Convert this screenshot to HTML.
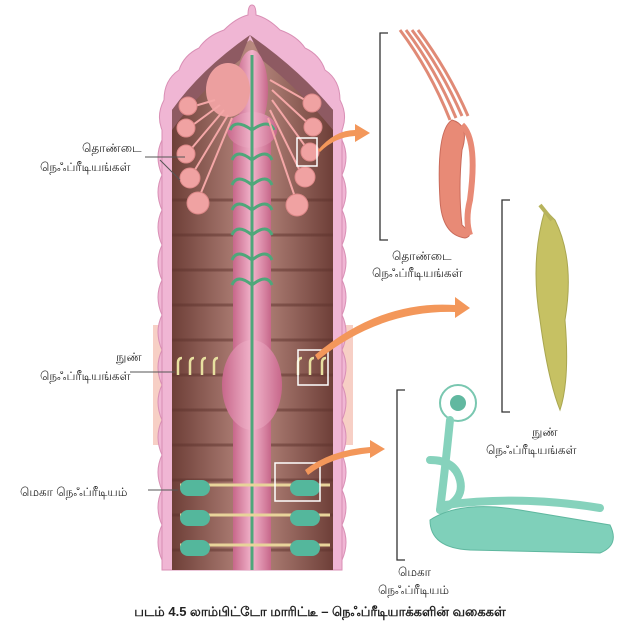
<!DOCTYPE html>
<html><head><meta charset="utf-8"><style>
body{margin:0;background:#fff;width:640px;height:642px;overflow:hidden;font-family:"Liberation Sans","Noto Sans CJK SC",sans-serif}
svg{position:absolute;left:0;top:0}
text{font-family:"Liberation Sans","Noto Sans CJK SC",sans-serif;font-size:12px;fill:#222}
</style></head><body>
<svg width="640" height="642" viewBox="0 0 640 642">
<defs>
<linearGradient id="br" x1="0" x2="1"><stop offset="0" stop-color="#6e3f38"/><stop offset=".5" stop-color="#b98a80"/><stop offset="1" stop-color="#6e3f38"/></linearGradient>
<linearGradient id="gut" x1="0" x2="1"><stop offset="0" stop-color="#c7678a"/><stop offset=".5" stop-color="#f2b5cc"/><stop offset="1" stop-color="#c7678a"/></linearGradient>
</defs>
<rect x="153" y="325" width="200" height="120" fill="#f7cfc5"/>
<!-- outer body scalloped -->
<path d="M162,570 L162,130 q-6,-15 2,-30 q0,-20 15,-30 q5,-15 20,-22 q8,-12 25,-18 q12,-12 24,-15 q0,-10 4,-10 q4,0 4,10 q12,3 24,15 q17,6 25,18 q15,7 20,22 q15,10 15,30 q8,15 2,30 L342,570 Z" fill="#f0b6d4" stroke="#d98fb5"/>
<g fill="#f0b6d4" stroke="#d98fb5">
<path d="M162,140 q-8,17 0,35 q-8,17 0,35 q-8,17 0,35 q-8,17 0,35 q-8,17 0,35 q-8,17 0,35 q-8,17 0,35 q-8,17 0,35 q-8,17 0,35 q-8,17 0,35 q-8,17 0,35 q-8,17 0,35Z"/>
<path d="M342,140 q8,17 0,35 q8,17 0,35 q8,17 0,35 q8,17 0,35 q8,17 0,35 q8,17 0,35 q8,17 0,35 q8,17 0,35 q8,17 0,35 q8,17 0,35 q8,17 0,35 q8,17 0,35Z"/>
</g>
<!-- inner -->
<path d="M172,570 L172,110 Q200,75 250,40 Q300,75 333,110 L333,570 Z" fill="url(#br)"/>
<g stroke="#5e332d" stroke-width="3" opacity=".5">
<path d="M172,200h161M172,235h161M172,270h161M172,305h161M172,340h161M172,375h161M172,410h161M172,445h161M172,480h161M172,515h161M172,550h161"/>
</g>
<!-- flaps -->
<path d="M172,110 Q200,70 250,35 L240,60 Q200,90 172,130Z" fill="#8e5a62"/>
<path d="M333,110 Q300,70 250,35 L262,60 Q300,90 333,130Z" fill="#8e5a62"/>
<!-- gut -->
<rect x="233" y="120" width="38" height="450" fill="url(#gut)"/>
<ellipse cx="252" cy="90" rx="16" ry="40" fill="url(#gut)"/>
<ellipse cx="252" cy="130" rx="25" ry="18" fill="url(#gut)"/>
<ellipse cx="252" cy="385" rx="30" ry="45" fill="url(#gut)"/>
<ellipse cx="228" cy="90" rx="22" ry="27" fill="#ec9f9f"/>
<!-- nerve -->
<line x1="252" y1="55" x2="252" y2="570" stroke="#4ea77a" stroke-width="3"/>
<g fill="none" stroke="#4ea77a" stroke-width="3">
<path d="M230,130q5,-12 22,0q17,-12 22,0"/><path d="M232,160q5,-12 20,0q15,-12 20,0"/>
<path d="M232,185q5,-12 20,0q15,-12 20,0"/><path d="M232,210q5,-12 20,0q15,-12 20,0"/>
<path d="M232,235q5,-12 20,0q15,-12 20,0"/><path d="M232,260q5,-12 20,0q15,-12 20,0"/>
<path d="M232,285q5,-12 20,0q15,-12 20,0"/>
</g>
<!-- pharyngeal nephridia -->
<g stroke="#f4a7a7" stroke-width="2"><path d="M215,100L188,108M220,105L186,130M224,110L186,155M228,115L190,178M232,118L198,200M270,80L305,100M272,90L310,125M272,100L308,150M270,110L302,175M268,118L296,200"/></g>
<g fill="#f0a2a2" stroke="#d88"><circle cx="188" cy="106" r="9"/><circle cx="186" cy="128" r="9"/><circle cx="186" cy="154" r="9"/><circle cx="190" cy="178" r="10"/><circle cx="198" cy="203" r="11"/><circle cx="312" cy="103" r="9"/><circle cx="313" cy="127" r="9"/><circle cx="310" cy="152" r="9"/><circle cx="305" cy="177" r="10"/><circle cx="297" cy="205" r="11"/></g>
<rect x="297" y="138" width="20" height="28" fill="none" stroke="#fff" stroke-width="1.5"/>
<!-- micro -->
<g fill="none" stroke="#e8e0a0" stroke-width="2.5"><path d="M178,375v-12q0,-5 4,-5M190,375v-12q0,-5 4,-5M202,375v-12q0,-5 4,-5M214,375v-12q0,-5 4,-5M298,375v-12q0,-5 4,-5M310,375v-12q0,-5 4,-5M322,375v-12q0,-5 4,-5"/></g>
<rect x="298" y="350" width="30" height="35" fill="none" stroke="#fff" stroke-width="1.5"/>
<!-- mega -->
<g fill="none" stroke="#e8d49a" stroke-width="3"><path d="M180,485h150M180,515h150M180,545h150"/></g>
<g fill="#54b79c"><rect x="180" y="480" width="30" height="16" rx="8"/><rect x="290" y="480" width="30" height="16" rx="8"/><rect x="180" y="510" width="30" height="16" rx="8"/><rect x="290" y="510" width="30" height="16" rx="8"/><rect x="180" y="540" width="30" height="16" rx="8"/><rect x="290" y="540" width="30" height="16" rx="8"/></g>
<rect x="275" y="463" width="45" height="38" fill="none" stroke="#fff" stroke-width="1.5"/>
<!-- arrows -->
<g fill="#f3975a"><path d="M318,150 Q335,130 355,130 L355,124 L370,133 L355,142 L355,136 Q335,137 320,152Z"/>
<path d="M315,355 Q380,300 455,305 L455,297 L470,308 L455,318 L455,312 Q380,310 318,360Z"/>
<path d="M305,470 Q330,450 370,447 L370,440 L385,449 L370,458 L370,453 Q330,457 308,475Z"/></g>
<!-- pointer lines -->
<g stroke="#555" stroke-width="1"><path d="M145,157h40M160,160l20,20M130,372h45M148,490h30"/></g>
<!-- brackets -->
<g stroke="#333" stroke-width="1.3" fill="none"><path d="M388,33h-8v207h8M510,200h-8v212h8M405,390h-8v170h8"/></g>
<!-- pharyngeal detail -->
<g fill="none" stroke="#e08a76" stroke-width="3"><path d="M400,30 Q430,70 450,120"/><path d="M406,30 Q436,70 456,118"/><path d="M412,30 Q442,70 462,116"/><path d="M418,30 Q448,70 468,116"/></g>
<path d="M452,120 Q436,130 440,200 Q442,235 465,238 Q475,236 462,225 Q458,190 462,150 Q470,125 452,120Z" fill="#e88a76" stroke="#c96a5a"/>
<path d="M462,125 Q478,140 470,200 Q465,220 470,235" fill="none" stroke="#e88a76" stroke-width="6"/>
<!-- micro detail -->
<path d="M545,210 Q530,260 540,320 Q548,380 560,410 Q570,380 565,320 Q575,260 555,220Z" fill="#c6c163" stroke="#a9a650"/>
<path d="M540,205 L552,220" stroke="#b7b35c" stroke-width="4"/>
<!-- mega detail -->
<circle cx="458" cy="403" r="18" fill="#fff" stroke="#79c7b0" stroke-width="2"/>
<circle cx="458" cy="403" r="8" fill="#61b8a0"/>
<g fill="none" stroke="#86d2bc" stroke-width="8" stroke-linecap="round"><path d="M450,420 Q445,470 440,510"/><path d="M430,460 Q455,460 460,480 Q465,500 440,510"/><path d="M445,505 Q520,495 600,508"/></g>
<path d="M430,520 Q460,500 520,510 L610,525 Q620,545 600,553 L470,550 Q430,548 430,520Z" fill="#7fd0ba" stroke="#5fb79f"/>
<!-- labels -->
<text x="82" y="152">தொண்டை</text><text x="40" y="171">நெஃப்ரீடியங்கள்</text>
<text x="116" y="361">நுண்</text><text x="40" y="380">நெஃப்ரீடியங்கள்</text>
<text x="20" y="496">மெகா நெஃப்ரீடியம்</text>
<text x="392" y="260">தொண்டை</text><text x="372" y="277">நெஃப்ரீடியங்கள்</text>
<text x="532" y="436">நுண்</text><text x="486" y="454">நெஃப்ரீடியங்கள்</text>
<text x="398" y="576">மெகா</text><text x="378" y="594">நெஃப்ரீடியம்</text>
<text x="320" y="616" text-anchor="middle" style="font-weight:bold;font-size:13px">படம் 4.5  லாம்பிட்டோ மாரிட்டீ –  நெஃப்ரீடியாக்களின் வகைகள்</text>
</svg>
</body></html>
